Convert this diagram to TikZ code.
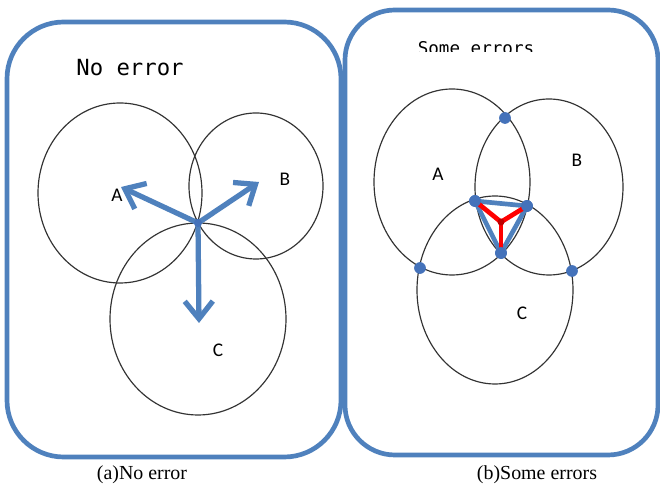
\documentclass[tikz,border=0pt]{standalone}
\usepackage{fontspec}
\setmainfont{Liberation Serif}
\newfontfamily\labfont{Carlito}
\newfontfamily\titlefont{DejaVu Sans Mono}
\usetikzlibrary{arrows.meta}
\definecolor{panelblue}{RGB}{79,129,189}
\definecolor{dotblue}{RGB}{68,114,186}

\begin{document}
\begin{tikzpicture}[x=0.03cm, y=-0.03cm,
	panel/.style={ draw=panelblue, line width=4pt },
	rangecircle/.style={ draw=black!80, line width=1pt },
	vertex/.style={ circle, fill=dotblue, inner sep=0pt, minimum size=10pt },
	vertexr/.style={ circle, fill=red!75!black, inner sep=0pt, minimum size=6pt },
	pointer/.style={ draw=panelblue, line width=4.5pt, -{Straight Barb[length=15pt, width=24pt]} },
	edgeb/.style={ draw=panelblue, line width=4pt, line cap=round },
	edger/.style={ draw=red, line width=4pt, line cap=round },
	lab/.style={ font=\labfont\fontsize{16.5}{16.5}\selectfont },
	capt/.style={ font=\fontsize{17}{17}\selectfont }
]
\useasboundingbox (0,0) rectangle (660,489);

% (a) no error
\draw[panel, rounded corners=1.7cm] (7,22) rectangle (341,457);
\node[font=\titlefont\fontsize{19}{19}\selectfont] (t1) at (130,68) {No error};
\draw[rangecircle] (120,193) ellipse [x radius=82, y radius=90];
\draw[rangecircle] (256,186) ellipse [x radius=67, y radius=73];
\draw[rangecircle] (198,319) ellipse [x radius=88, y radius=96];
\node[lab] (a1) at (117,195) {A};
\node[lab] (b1) at (285,179) {B};
\node[lab] (c1) at (218,350) {C};
\coordinate (o1) at (198,223);
\coordinate (pa) at (121,187);
\coordinate (pb) at (259,182);
\coordinate (pc) at (199,323);
\foreach \p in {pa,pb,pc} \draw[pointer] (o1) to (\p);
\node[vertex, minimum size=7pt] at (o1) (o1v) {};
\node[capt] (cap1) at (142,475) {(a)No error};

% (b) some errors
\draw[panel, rounded corners=1.5cm] (345,10) rectangle (658,455);
\begin{scope}
\clip (400,20) rectangle (560,52);
\node[font=\titlefont\fontsize{15}{15}\selectfont, anchor=base] (t2) at (476,55) {Some errors};
\end{scope}
\draw[rangecircle] (452,182) ellipse [x radius=78, y radius=93];
\draw[rangecircle] (549,187) ellipse [x radius=74, y radius=88];
\draw[rangecircle] (495,290) ellipse [x radius=78, y radius=94];
\node[lab] (a2) at (438,174) {A};
\node[lab] (b2) at (577,160) {B};
\node[lab] (c2) at (522,313) {C};
\node[vertex] at (505,118) (g2v1) {};
\node[vertex] at (420,268) (g2v2) {};
\node[vertex] at (572,271) (g2v3) {};
\node[vertex] at (475,201) (g2v4) {};
\node[vertex] at (527,206) (g2v5) {};
\node[vertex] at (501,253) (g2v6) {};
\coordinate (g2c) at (501,222);
\draw[edgeb] (g2v4.center) -- (g2v5.center) -- (g2v6.center) -- cycle;
\foreach \p in {g2v4,g2v5,g2v6} \draw[edger] (g2c) to (\p.center);
\foreach \p in {g2v4,g2v5,g2v6} \node[vertex] at (\p) {};
\node[vertexr] at (g2c) (g2cv) {};
\node[capt] (cap2) at (537,475) {(b)Some errors};

\end{tikzpicture}
\end{document}
